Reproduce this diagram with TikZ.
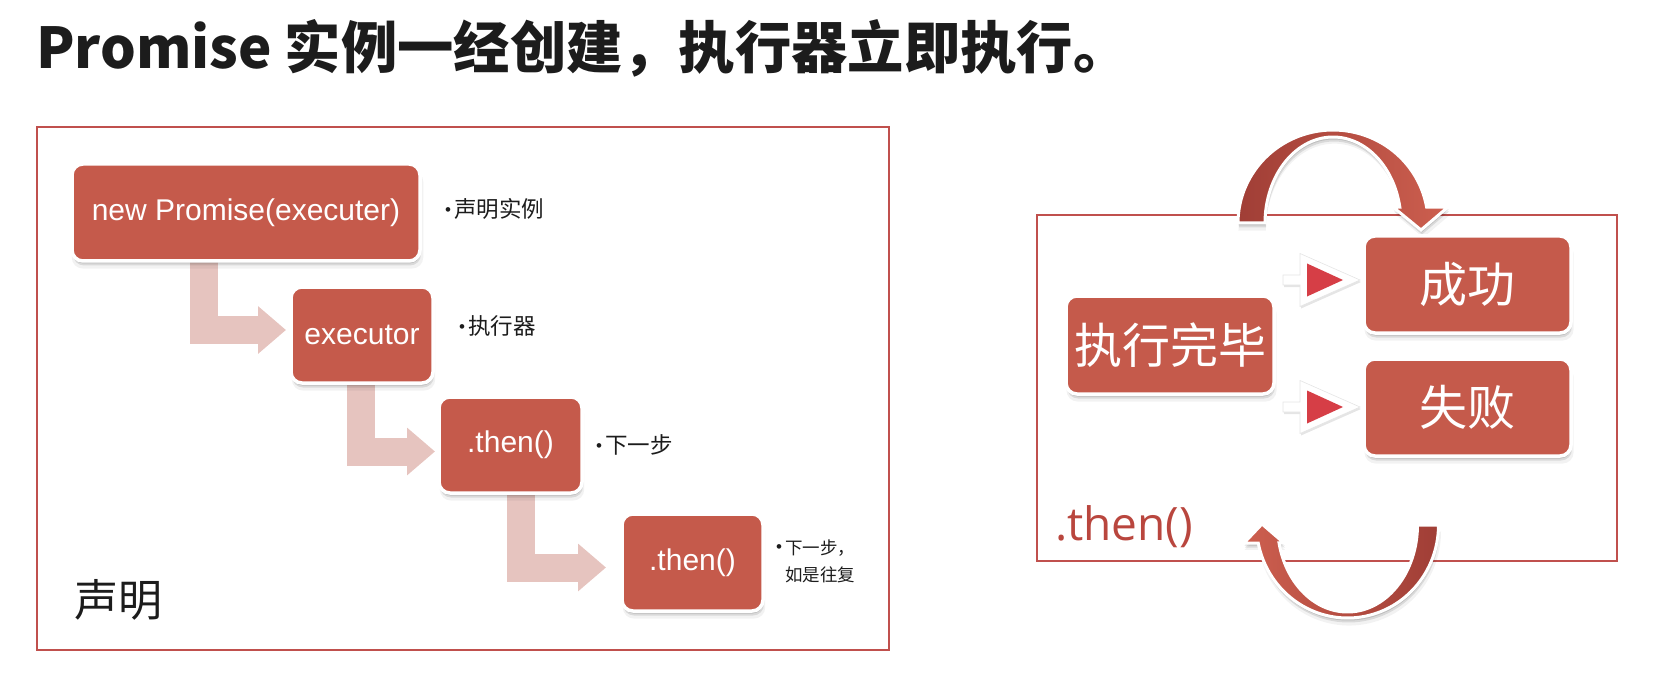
\documentclass[tikz,border=0pt]{standalone}
\usepackage{fontspec}
\setmainfont{Liberation Sans}
\newfontfamily\cjk{Noto Sans CJK SC}
\newfontfamily\osans{Open Sans}
\usetikzlibrary{shadows,arrows.meta,calc}

\pgfdeclarelayer{background}
\pgfsetlayers{background,main}

\definecolor{boxred}{RGB}{197,90,75}
\definecolor{framered}{RGB}{192,80,77}
\definecolor{bendpink}{RGB}{230,196,191}
\definecolor{arcdark}{RGB}{160,62,54}
\definecolor{arclight}{RGB}{205,95,79}
\definecolor{tipred}{RGB}{214,62,70}
\definecolor{thenred}{RGB}{185,70,62}
\definecolor{inkblack}{RGB}{28,28,28}

\newcommand\notebullet{\raisebox{2pt}{\rmfamily\fontsize{17}{17}\selectfont\textbullet}\hspace{3pt}}

\tikzset{
  softshadow/.style={
    general shadow={fill=black, opacity=0.05, shadow xshift=1.5pt, shadow yshift=-7pt, shadow scale=1.01},
    general shadow={fill=black, opacity=0.10, shadow xshift=1pt, shadow yshift=-4.5pt},
    general shadow={fill=black, opacity=0.13, shadow xshift=0.5pt, shadow yshift=-2.5pt}},
  stepbox/.style={softshadow, rounded corners=11pt, fill=boxred, draw=white,
    line width=3.5pt, outer sep=0pt, inner sep=0pt, text=white,
    font=\fontsize{30}{34}\selectfont},
  bigbox/.style={stepbox, font=\cjk\fontsize{48}{52}\selectfont},
  framebox/.style={draw=framered, line width=1.6pt},
  bendarrow/.style={draw=bendpink, line width=28pt,
    -{Triangle[length=28pt,width=46pt]}},
  notetext/.style={anchor=west, inner sep=0pt, text=inkblack,
    font=\cjk\fontsize{22.5}{26}\selectfont},
  looparrow/.style={softshadow, draw=white, line width=3pt},
  branchtip/.pic={
    \path[general shadow={fill=black, opacity=0.10, shadow xshift=1pt, shadow yshift=-2pt},
          fill=white, draw=black!10, line width=0.6pt]
      (-77,-5) -- (-60,-5) -- (-60,-26.5) -- (0,0) -- (-60,26.5) -- (-60,5) -- (-77,5) -- cycle;
    \fill[tipred] (-53,-16.5) -- (-17,0) -- (-53,16.5) -- cycle;
  }
}

\begin{document}
\begin{tikzpicture}[x=1pt,y=-1pt]
\useasboundingbox (0,0) rectangle (1659,676);

% heading
\node[anchor=west, inner sep=0pt, text=inkblack,
      font=\cjk\bfseries\fontsize{56.3}{60}\selectfont] (title) at (36,48)
  {Promise 实例一经创建，执行器立即执行。};

% ---------- left panel: declaration chain ----------
\draw[framebox] (37,127) rectangle (889,650);

\node[stepbox, minimum width=348pt, minimum height=97pt] (np) at (246,212.5) {new Promise(executer)};
\node[stepbox, minimum width=142pt, minimum height=96pt] (ex) at (362,335) {executor};
\node[stepbox, minimum width=143pt, minimum height=96pt] (t1) at (510.5,445) {.then()};
\node[stepbox, minimum width=141pt, minimum height=97pt] (t2) at (692.5,562.5) {.then()};

% bent block arrows, kept under the boxes
\begin{pgfonlayer}{background}
  \draw[bendarrow, shorten >=5pt]  ($(np.south west)+(131.5,-2)$) |- ($(ex.west)+(0,-5)$);
  \draw[bendarrow, shorten >=4pt]  ($(ex.south west)+(70,-2)$)    |- ($(t1.west)+(0,6.5)$);
  \draw[bendarrow, shorten >=16pt] ($(t1.south west)+(82,-2)$)    |- ($(t2.west)+(0,5)$);
\end{pgfonlayer}

\node[notetext] (n1) at (445,209) {\notebullet 声明实例};
\node[notetext] (n2) at (459,326) {\notebullet 执行器};
\node[notetext] (n3) at (596,445) {\notebullet 下一步};
\node[notetext, align=left, font=\cjk\fontsize{17.5}{27}\selectfont] (n4) at (776,561.5)
  {\notebullet 下一步，\\ \hphantom{\notebullet}如是往复};

\node[anchor=center, inner sep=0pt, text=inkblack, font=\cjk\fontsize{44}{48}\selectfont] (decl) at (118,600) {声明};

% ---------- right panel: settle and loop ----------
\draw[framebox] (1037,215) rectangle (1617,561);

% upper loop arrow
\path[looparrow, left color=arcdark, right color=arclight]
  plot[domain=180:9.9, samples=60] ({1333+95*cos(\x)}, {223-93*sin(\x)})
  -- (1448,207) -- (1421,230) -- (1393,207)
  -- plot[domain=10.7:180, samples=60] ({1333+68*cos(\x)}, {223-86*sin(\x)})
  -- cycle;

% lower loop arrow
\path[looparrow, left color=arclight, right color=arcdark]
  plot[domain=0:168.8, samples=60] ({1347.5+91*cos(\x)}, {525+93*sin(\x)})
  -- (1244,543) -- (1262,524) -- (1284,543)
  -- plot[domain=168.1:0, samples=60] ({1347.5+70*cos(\x)}, {525+87*sin(\x)})
  -- cycle;

\node[bigbox, minimum width=208pt, minimum height=98pt] (done) at (1170,345) {执行完毕};
\node[bigbox, minimum width=207pt, minimum height=97pt] (succ) at (1467.5,284.5) {成功};
\node[bigbox, minimum width=207pt, minimum height=97pt] (fail) at (1467.5,407.5) {失败};

\pic at ($(succ.west)+(-4,-4.5)$) {branchtip};
\pic at ($(fail.west)+(-4,-0.5)$) {branchtip};

\node[anchor=west, inner sep=0pt, text=thenred, font=\osans\fontsize{46}{50}\selectfont] (thenlabel) at (1055,527) {.then()};
\end{tikzpicture}
\end{document}
